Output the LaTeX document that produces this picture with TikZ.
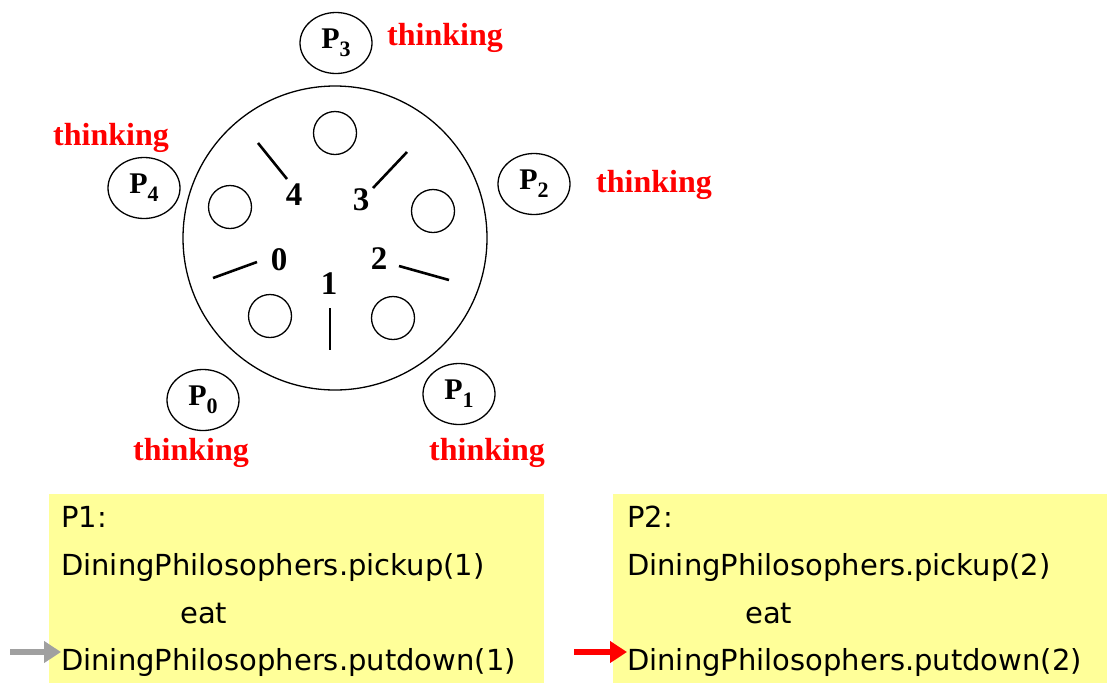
\documentclass[tikz,border=0pt]{standalone}
\usepackage{fontspec}
\setmainfont{Liberation Serif}
\newfontfamily\codefont{DejaVu Sans}
\usetikzlibrary{arrows.meta,shapes.geometric}
\definecolor{boxyellow}{RGB}{255,255,153}
\definecolor{arrowgray}{RGB}{160,160,160}
\newcommand{\phil}[1]{P\raisebox{-8pt}{\fontsize{22}{22}\selectfont #1}}
\begin{document}
\begin{tikzpicture}[x=1pt,y=-1pt,
  tablecircle/.style={draw,line width=1.3pt,circle,minimum size=304pt,inner sep=0pt},
  plate/.style={draw,line width=1.3pt,circle,minimum size=43pt,inner sep=0pt},
  philo/.style={draw,line width=1.3pt,ellipse,minimum width=72pt,minimum height=61pt,inner sep=0pt,
    font=\bfseries\fontsize{30}{30}\selectfont},
  stick/.style={line width=2.6pt},
  num/.style={font=\bfseries\fontsize{33}{33}\selectfont,inner sep=0pt},
  think/.style={text=red,anchor=base,font=\bfseries\fontsize{32}{32}\selectfont,inner sep=0pt},
  codebox/.style={fill=boxyellow,draw=none},
  code/.style={anchor=base west,inner sep=0pt,font=\codefont\fontsize{29}{29}\selectfont},
  ptr/.style={line width=6pt,-{Triangle[length=17pt,width=21pt]}}
]
\useasboundingbox (0,0) rectangle (1110,694);
% table
\node[tablecircle] (table) at (335,238) {};
% plates
\node[plate] (pl3) at (335,133) {};
\node[plate] (pl4) at (230,207) {};
\node[plate] (pl2) at (433,211) {};
\node[plate] (pl0) at (270,316) {};
\node[plate] (pl1) at (393,318) {};
% chopsticks
\draw[stick] (258,143) -- (287,179);
\draw[stick] (407,152) -- (373,188);
\draw[stick] (213,278) -- (257,262);
\draw[stick] (399,266) -- (449,280);
\draw[stick] (330,308) -- (330,350);
% chopstick numbers
\node[num] (n4) at (294,195) {4};
\node[num] (n3) at (361,200) {3};
\node[num] (n0) at (279,260) {0};
\node[num] (n2) at (379,259) {2};
\node[num] (n1) at (329,284) {1};
% philosophers
\node[philo] (p3) at (336,43) {\phil{3}};
\node[philo] (p4) at (144,188) {\phil{4}};
\node[philo] (p2) at (534,184) {\phil{2}};
\node[philo] (p0) at (203,400) {\phil{0}};
\node[philo] (p1) at (459,394) {\phil{1}};
% states
\node[think] (t3) at (445,45) {thinking};
\node[think] (t4) at (111,145) {thinking};
\node[think] (t2) at (654,192) {thinking};
\node[think] (t0) at (191,460) {thinking};
\node[think] (t1) at (487,460) {thinking};
% code boxes
\fill[codebox] (49,494) rectangle (544,683);
\fill[codebox] (613,494) rectangle (1107,683);
\node[code] (a1) at (61,527) {P1:};
\node[code] (a2) at (61,575) {DiningPhilosophers.pickup(1)};
\node[code] (a3) at (180,623) {eat};
\node[code] (a4) at (61,670) {DiningPhilosophers.putdown(1)};
\node[code] (b1) at (627,527) {P2:};
\node[code] (b2) at (627,575) {DiningPhilosophers.pickup(2)};
\node[code] (b3) at (745,623) {eat};
\node[code] (b4) at (627,670) {DiningPhilosophers.putdown(2)};
% pointers
\coordinate (ga) at (10,652);
\coordinate (ra) at (574,652);
\draw[ptr,arrowgray] (ga) -- (ga -| a4.west);
\draw[ptr,red] (ra) -- (ra -| b4.west);
\end{tikzpicture}
\end{document}
